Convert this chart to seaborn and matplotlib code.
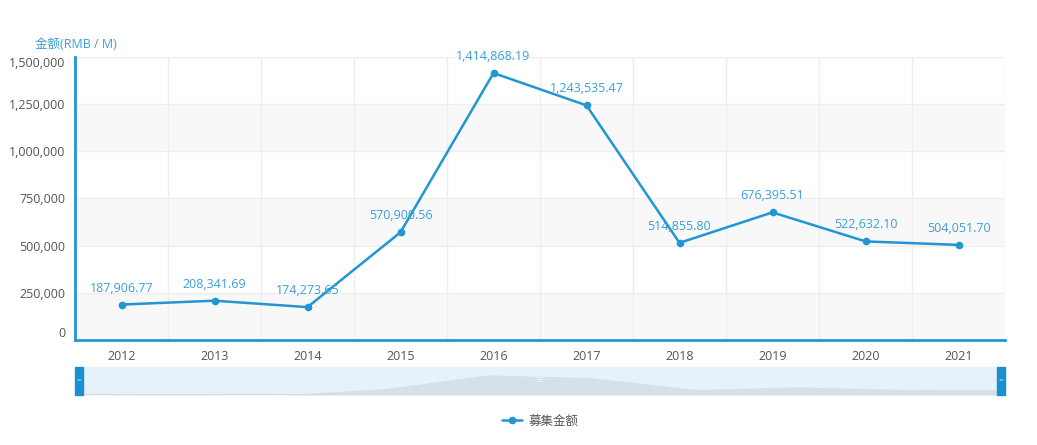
import pandas as pd
import seaborn as sns
import matplotlib.pyplot as plt
from matplotlib.patches import Rectangle

years = ['2012', '2013', '2014', '2015', '2016', '2017', '2018', '2019', '2020', '2021']
amounts = [187906.77, 208341.69, 174273.65, 570900.56, 1414868.19,
           1243535.47, 514855.80, 676395.51, 522632.10, 504051.70]
y_ticks = [0, 250000, 500000, 750000, 1000000, 1250000, 1500000]
series_name = '募集金额'
axis_name = '金额(RMB / M)'

LINE = '#2196d3'
LABEL = '#3a9fd8'
TXT = '#555555'

sns.set_style('white')
plt.rcParams['font.family'] = ['Open Sans', 'Noto Sans CJK SC', 'DejaVu Sans']

df = pd.DataFrame({'year': years, 'amount': amounts})
df['pos'] = range(len(df))

fig = plt.figure(figsize=(10.37, 4.45), dpi=100)
W, H = 1037, 445
ax = fig.add_axes([75 / W, (H - 340) / H, 930 / W, 283 / H])

# alternating bands
for i in range(len(y_ticks) - 1):
    if i % 2 == 0:
        ax.axhspan(y_ticks[i], y_ticks[i + 1], color='#f8f8f8', zorder=0, lw=0)

sns.lineplot(data=df, x='pos', y='amount', ax=ax, color=LINE, lw=1.8,
             marker='o', markersize=5.5, markeredgewidth=0, label=series_name,
             legend=False, zorder=5)

for x, v in zip(df['pos'], df['amount']):
    ax.annotate(f'{v:,.2f}', (x, v), xytext=(0, 10), textcoords='offset pixels',
                ha='center', va='bottom', color=LABEL, fontsize=9, zorder=6)

ax.set_xlim(-0.5, len(years) - 0.5)
ax.set_ylim(0, 1500000)
ax.set_xticks([i - 0.5 for i in range(len(years) + 1)])
ax.set_xticklabels([])
ax.set_xticks(range(len(years)), minor=True)
ax.set_xticklabels(years, minor=True)
ax.tick_params(axis='x', which='major', length=5, width=1, color='#555555', direction='out')
ax.tick_params(axis='x', which='minor', length=0, pad=7, labelsize=9, labelcolor=TXT)
ax.set_yticks(y_ticks)
ax.set_yticklabels([f'{t:,}' for t in y_ticks])
ax.tick_params(axis='y', length=0, pad=7, labelsize=9, labelcolor=TXT)
yl = ax.get_yticklabels()
yl[0].set_va('bottom')
yl[-1].set_va('top')
ax.grid(True, which='major', color='#eeeeee', lw=1, zorder=1)
ax.set_axisbelow(True)
ax.set_xlabel('')
ax.set_ylabel('')
for s in ['top', 'right']:
    ax.spines[s].set_visible(False)
for s in ['left', 'bottom']:
    ax.spines[s].set_color(LINE)
    ax.spines[s].set_linewidth(2)

fig.text(35 / W, 1 - 44 / H, axis_name, color=LABEL, fontsize=9, va='center', ha='left')

# data zoom slider
sl = fig.add_axes([75 / W, (H - 395) / H, 930 / W, 28 / H])
sl.set_facecolor('#e7f1fb')
lo = min(amounts)
hi = lo + (max(amounts) - lo) / 0.72
sl.fill_between(df['pos'], df['amount'], lo, color='#d6e0ea', lw=0)
sl.set_xlim(0, len(years) - 1)
sl.set_ylim(lo, hi)
sl.set_xticks([])
sl.set_yticks([])
for s in sl.spines.values():
    s.set_visible(False)
sl.axhline(lo, color='#d0dbe6', lw=1.5)
hw = 8 / 930 * (len(years) - 1)
for x0 in [0, len(years) - 1 - hw]:
    sl.add_patch(Rectangle((x0, lo), hw, hi - lo, color='#1a8fd2', zorder=5, clip_on=False))
    sl.text(x0 + hw / 2, (lo + hi) / 2, '=', color='#cfe6f7', fontsize=6,
            ha='center', va='center', zorder=6)
sl.text((len(years) - 1) / 2, (lo + hi) / 2, '≡', color='#f2f6fa', fontsize=6,
        ha='center', va='center', zorder=6)

handles, labels = ax.get_legend_handles_labels()
leg = fig.legend(handles, labels, loc='center', bbox_to_anchor=(540 / W, 1 - 421 / H),
                 frameon=False, fontsize=9, handlelength=1.6, handletextpad=0.5)
for t in leg.get_texts():
    t.set_color(TXT)

fig.savefig('out.png', dpi=100, facecolor='white')
